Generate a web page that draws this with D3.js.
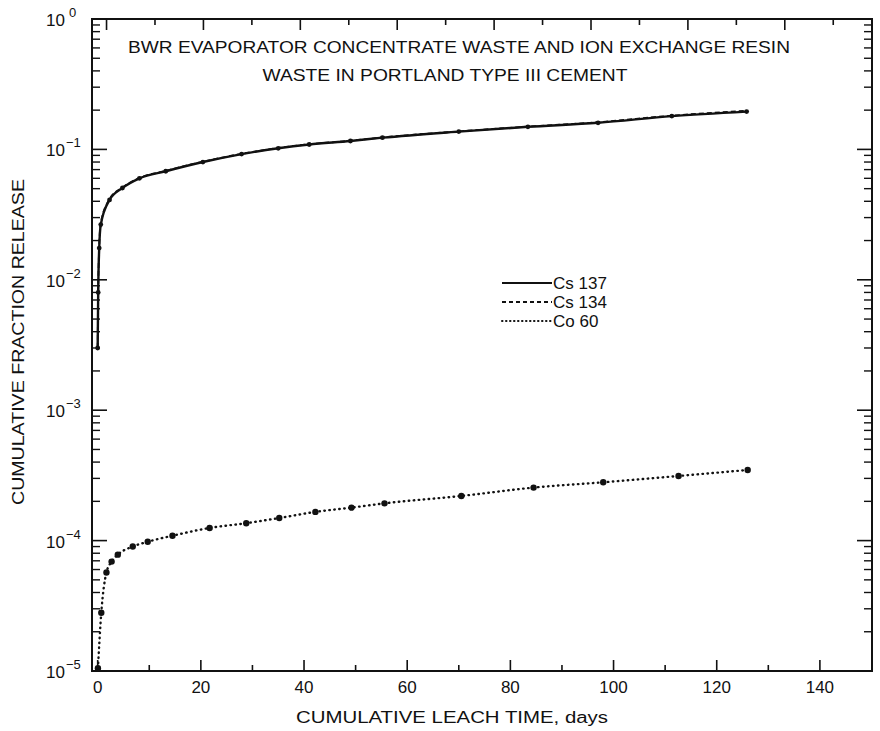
<!DOCTYPE html>
<html>
<head>
<meta charset="utf-8">
<script src="https://cdn.jsdelivr.net/npm/d3@7"></script>
<style>
  html, body { margin: 0; padding: 0; background: #ffffff; }
  svg text { font-family: "Liberation Sans", "DejaVu Sans", Arial, sans-serif; fill: #111; }
</style>
</head>
<body>
<svg id="chart" width="880" height="731"></svg>
<script>
// ---------- data ----------
const titleLines = [
  "BWR EVAPORATOR CONCENTRATE WASTE AND ION EXCHANGE RESIN",
  "WASTE IN PORTLAND TYPE III CEMENT"
];
const xLabel = "CUMULATIVE LEACH TIME, days";
const yLabel = "CUMULATIVE FRACTION RELEASE";
const seriesNames = ["Cs 137", "Cs 134", "Co 60"];

const csDays   = [0, 0.1, 0.3, 0.6, 2.3, 4.8, 8.1, 13.2, 20.4, 27.9, 35, 41, 49, 55.2, 70, 83.4, 97, 111.3, 125.8];
const cs137    = [0.003, 0.008, 0.0175, 0.0265, 0.041, 0.0506, 0.060, 0.068, 0.080, 0.092, 0.102, 0.109, 0.116, 0.123, 0.137, 0.149, 0.160, 0.180, 0.195];
const cs134    = [0.003, 0.008, 0.0178, 0.027, 0.0415, 0.051, 0.0605, 0.0685, 0.0805, 0.0925, 0.1025, 0.1095, 0.1165, 0.1235, 0.1375, 0.1495, 0.1615, 0.1815, 0.198];

const coDays   = [0.05, 0.7, 1.7, 2.7, 3.9, 6.8, 9.7, 14.5, 21.7, 28.8, 35.2, 42.2, 49.2, 55.6, 70.5, 84.5, 98, 112.6, 126];
const co60     = [1.05e-5, 2.8e-5, 5.7e-5, 6.9e-5, 7.8e-5, 9.0e-5, 9.8e-5, 1.09e-4, 1.25e-4, 1.36e-4, 1.49e-4, 1.66e-4, 1.79e-4, 1.93e-4, 2.2e-4, 2.55e-4, 2.8e-4, 3.13e-4, 3.48e-4];

const xMajorTicks = [0, 20, 40, 60, 80, 100, 120, 140];
const xMinorTicks = [10, 30, 50, 70, 90, 110, 130];
const yExponents  = [0, -1, -2, -3, -4, -5];
const topTicks    = [0, 1, 2, 3, 4, 5, 6, 7, 8, 9, 10, 11, 12, 13, 14, 15];

// ---------- layout ----------
const svg = d3.select("#chart");
const L = 92, R = 872, T = 19, B = 671;

const x = d3.scaleLinear().domain([-1.1, 150.1]).range([L, R]);
const y = d3.scaleLog().domain([1e-5, 1]).range([B, T]);
const xTop = d3.scaleLinear().domain([-0.3, 15.8]).range([L, R]);

// minor log ticks
const yMinor = [];
for (let e = -5; e < 0; e++) for (let m = 2; m <= 9; m++) yMinor.push(m * Math.pow(10, e));

const g = svg.append("g");

// frame
g.append("rect").attr("x", L).attr("y", T).attr("width", R - L).attr("height", B - T)
  .attr("fill", "none").attr("stroke", "#111").attr("stroke-width", 2);

// bottom ticks (inward)
g.selectAll(".xmaj").data(xMajorTicks).enter().append("line")
  .attr("x1", d => x(d)).attr("x2", d => x(d)).attr("y1", B).attr("y2", B - 11)
  .attr("stroke", "#111").attr("stroke-width", 1.6);
g.selectAll(".xmin").data(xMinorTicks).enter().append("line")
  .attr("x1", d => x(d)).attr("x2", d => x(d)).attr("y1", B).attr("y2", B - 6)
  .attr("stroke", "#111").attr("stroke-width", 1.6);

// top ticks
g.selectAll(".xtop").data(topTicks).enter().append("line")
  .attr("x1", d => xTop(d)).attr("x2", d => xTop(d)).attr("y1", T).attr("y2", d => T + (d % 2 === 0 ? 11 : 6))
  .attr("stroke", "#111").attr("stroke-width", 1.6);

// left & right ticks
yExponents.forEach(e => {
  const v = Math.pow(10, e);
  g.append("line").attr("x1", L).attr("x2", L + 15).attr("y1", y(v)).attr("y2", y(v)).attr("stroke", "#111").attr("stroke-width", 1.6);
  g.append("line").attr("x1", R).attr("x2", R - 15).attr("y1", y(v)).attr("y2", y(v)).attr("stroke", "#111").attr("stroke-width", 1.6);
});
yMinor.forEach(v => {
  g.append("line").attr("x1", L).attr("x2", L + 8).attr("y1", y(v)).attr("y2", y(v)).attr("stroke", "#111").attr("stroke-width", 1.4);
  g.append("line").attr("x1", R).attr("x2", R - 8).attr("y1", y(v)).attr("y2", y(v)).attr("stroke", "#111").attr("stroke-width", 1.4);
});

// x tick labels
g.selectAll(".xlab").data(xMajorTicks).enter().append("text")
  .attr("x", d => x(d)).attr("y", B + 22).attr("text-anchor", "middle")
  .attr("font-size", 17).text(d => d);

// y tick labels
yExponents.forEach(e => {
  const t = g.append("text").attr("x", 46).attr("y", y(Math.pow(10, e)) + 7).attr("font-size", 17);
  t.append("tspan").text("10");
  t.append("tspan").attr("dy", -9).attr("dx", e === 0 ? 4 : 1).attr("font-size", 13).text(e === 0 ? "0" : "\u2212" + (-e));
});

// axis labels
g.append("text").attr("x", 452).attr("y", 723).attr("text-anchor", "middle").attr("font-size", 16)
  .attr("textLength", 312).attr("lengthAdjust", "spacingAndGlyphs").text(xLabel);
g.append("text").attr("transform", "translate(24,342) rotate(-90)").attr("text-anchor", "middle").attr("font-size", 16)
  .attr("textLength", 326).attr("lengthAdjust", "spacingAndGlyphs").text(yLabel);

// title
g.append("text").attr("x", 459).attr("y", 53).attr("text-anchor", "middle").attr("font-size", 16.5)
  .attr("textLength", 662).attr("lengthAdjust", "spacingAndGlyphs").text(titleLines[0]);
g.append("text").attr("x", 445).attr("y", 81).attr("text-anchor", "middle").attr("font-size", 16.5)
  .attr("textLength", 365).attr("lengthAdjust", "spacingAndGlyphs").text(titleLines[1]);

// ---------- series ----------
const line = d3.line().x(d => x(d[0])).y(d => y(d[1])).curve(d3.curveMonotoneX);
const cs137Pts = csDays.map((d, i) => [d, cs137[i]]);
const cs134Pts = csDays.map((d, i) => [d, cs134[i]]);
const co60Pts  = coDays.map((d, i) => [d, co60[i]]);

g.append("path").datum(cs134Pts).attr("d", line).attr("fill", "none").attr("stroke", "#111")
  .attr("stroke-width", 1.8).attr("stroke-dasharray", "5,3");
g.append("path").datum(cs137Pts).attr("d", line).attr("fill", "none").attr("stroke", "#111")
  .attr("stroke-width", 2.4);
g.selectAll(".csdot").data(cs137Pts).enter().append("circle")
  .attr("cx", d => x(d[0])).attr("cy", d => y(d[1])).attr("r", 2.4).attr("fill", "#111");

g.append("path").datum(co60Pts).attr("d", line).attr("fill", "none").attr("stroke", "#111")
  .attr("stroke-width", 2.4).attr("stroke-linecap", "round").attr("stroke-dasharray", "0.5,4.5");
g.selectAll(".codot").data(co60Pts).enter().append("circle")
  .attr("cx", d => x(d[0])).attr("cy", d => y(d[1])).attr("r", 3.2).attr("fill", "#111");

// ---------- legend ----------
const legY = [283, 302, 321];
const legStyles = [
  { dash: null, w: 2 },
  { dash: "4,3", w: 1.8 },
  { dash: "0.5,3.5", w: 2, cap: "round" }
];
seriesNames.forEach((name, i) => {
  const ln = g.append("line").attr("x1", 502).attr("x2", 552).attr("y1", legY[i]).attr("y2", legY[i])
    .attr("stroke", "#111").attr("stroke-width", legStyles[i].w);
  if (legStyles[i].dash) ln.attr("stroke-dasharray", legStyles[i].dash);
  if (legStyles[i].cap) ln.attr("stroke-linecap", legStyles[i].cap);
  g.append("text").attr("x", 553).attr("y", legY[i] + 6).attr("font-size", 17).text(name);
});
</script>
</body>
</html>
